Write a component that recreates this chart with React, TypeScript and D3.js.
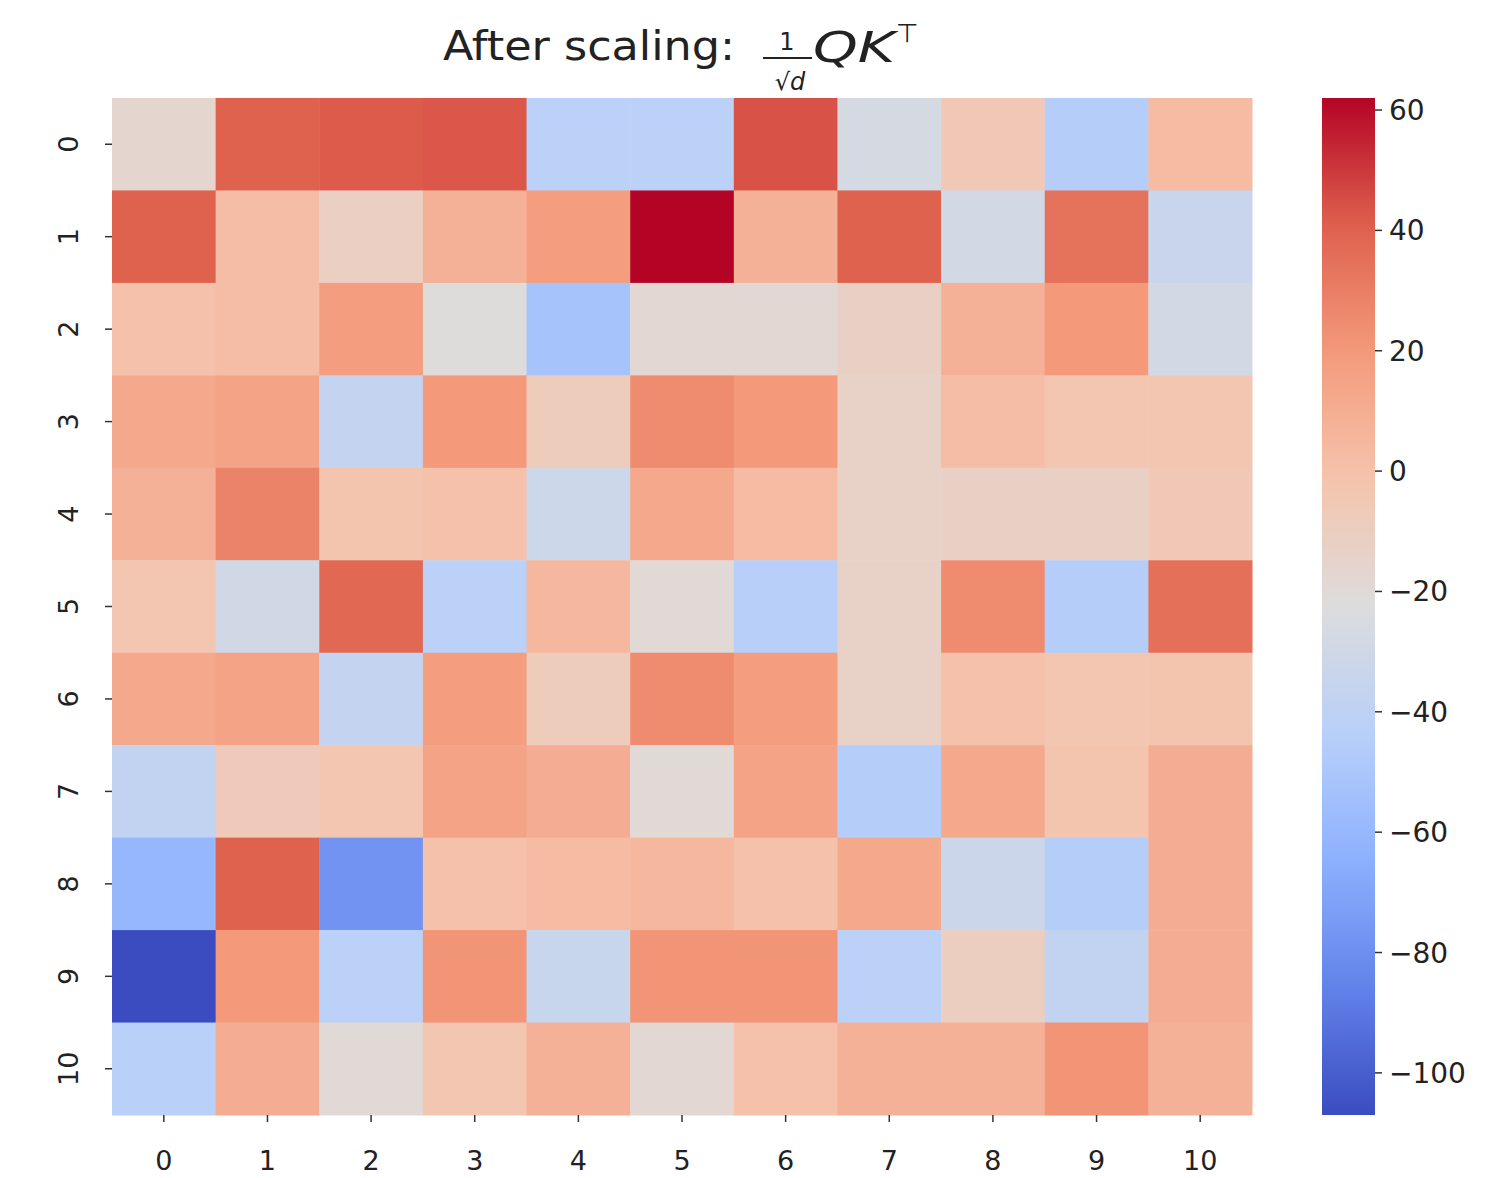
import React from "react";
import * as d3 from "d3";

const rowLabels = ["0", "1", "2", "3", "4", "5", "6", "7", "8", "9", "10"];
const colLabels = ["0", "1", "2", "3", "4", "5", "6", "7", "8", "9", "10"];

const row0 = [-16, 40, 42, 43, -42, -42, 44, -27, -5, -45, 3];
const row1 = [40, 2, -11, 8, 18, 62, 8, 40, -28, 34, -34];
const row2 = [0, 2, 18, -22, -52, -18, -18, -12, 8, 20, -28];
const row3 = [12, 15, -37, 20, -8, 25, 20, -13, 2, -3, -3];
const row4 = [8, 28, -2, 0, -32, 12, 3, -13, -12, -12, -5];
const row5 = [-3, -30, 38, -42, 5, -20, -44, -13, 25, -45, 35];
const row6 = [12, 15, -37, 18, -8, 25, 18, -13, 0, -3, -2];
const row7 = [-38, -7, -3, 15, 10, -20, 15, -45, 12, -2, 10];
const row8 = [-60, 40, -78, 0, 3, 5, 0, 12, -33, -45, 10];
const row9 = [-107, 20, -42, 22, -35, 22, 22, -42, -10, -38, 10];
const row10 = [-43, 10, -20, -3, 8, -18, 0, 8, 8, 22, 8];
const matrix = [row0, row1, row2, row3, row4, row5, row6, row7, row8, row9, row10];

const colorbarTicks = [60, 40, 20, 0, -20, -40, -60, -80, -100];
const vMin = -107;
const vMax = 62;

const coolwarmStops = [
  "#3a4cc0", "#6282ea", "#8db0fe", "#b8d0f9", "#dddcdc",
  "#f5c4ad", "#f49a7b", "#de604d", "#b40426",
];

const W = 1487;
const H = 1178;
const left = 112, right = 1252, top = 98, bottom = 1115;
const cbLeft = 1322, cbRight = 1375;
const FONT = "DejaVu Sans, sans-serif";

export default function App() {
  const x = d3.scaleBand<string>().domain(colLabels).range([left, right]);
  const y = d3.scaleBand<string>().domain(rowLabels).range([top, bottom]);
  const t = d3.scaleLinear().domain([vMin, vMax]).range([0, 1]);
  const stopPos = coolwarmStops.map((_, i) => i / (coolwarmStops.length - 1));
  const cmapT = d3.scaleLinear<string>().domain(stopPos).range(coolwarmStops).interpolate(d3.interpolateRgb);
  const color = (v: number) => cmapT(t(v));
  const cbY = d3.scaleLinear().domain([vMin, vMax]).range([bottom, top]);
  const gradStops = d3.range(0, 1.0001, 0.02);
  const fmt = (v: number) => (v < 0 ? "\u2212" + Math.abs(v) : String(v));

  return (
    <svg width={W} height={H} style={{ position: "absolute", left: 0, top: 0, background: "#fff" }} fontFamily={FONT}>
      <defs>
        <linearGradient id="cbgrad" x1="0" y1="1" x2="0" y2="0">
          {gradStops.map((s) => (
            <stop key={s} offset={s} stopColor={cmapT(s)} />
          ))}
        </linearGradient>
      </defs>
      {/* Title */}
      <g fill="#222">
        <text x={443} y={60} fontSize={40} textLength={292} lengthAdjust="spacingAndGlyphs">After scaling:</text>
        <text x={787} y={50} fontSize={24} textAnchor="middle">1</text>
        <line x1={763} x2={812} y1={58} y2={58} stroke="#222" strokeWidth={2} />
        <text x={790} y={90} fontSize={24} textAnchor="middle">
          <tspan>√</tspan>
          <tspan fontStyle="italic">d</tspan>
        </text>
        <text x={813} y={62} fontSize={42} fontStyle="italic" textLength={82} lengthAdjust="spacingAndGlyphs">QK</text>
        <text x={896} y={42} fontSize={26}>⊤</text>
      </g>
      {/* Cells */}
      {matrix.map((row, i) =>
        row.map((v, j) => (
          <rect
            key={`${i}-${j}`}
            x={x(colLabels[j])}
            y={y(rowLabels[i])}
            width={x.bandwidth() + 0.5}
            height={y.bandwidth() + 0.5}
            fill={color(v)}
          />
        ))
      )}
      {/* X axis */}
      {colLabels.map((c) => {
        const cx = (x(c) as number) + x.bandwidth() / 2;
        return (
          <g key={"x" + c}>
            <line x1={cx} x2={cx} y1={bottom} y2={bottom + 7} stroke="#333" strokeWidth={1.5} />
            <text x={cx} y={1170} fontSize={27} textAnchor="middle" fill="#222">{c}</text>
          </g>
        );
      })}
      {/* Y axis */}
      {rowLabels.map((r) => {
        const cy = (y(r) as number) + y.bandwidth() / 2;
        return (
          <g key={"y" + r}>
            <line x1={left - 7} x2={left} y1={cy} y2={cy} stroke="#333" strokeWidth={1.5} />
            <text transform={`translate(78,${cy}) rotate(-90)`} fontSize={27} textAnchor="middle" fill="#222">{r}</text>
          </g>
        );
      })}
      {/* Colorbar */}
      <rect x={cbLeft} y={top} width={cbRight - cbLeft} height={bottom - top} fill="url(#cbgrad)" />
      {colorbarTicks.map((v) => (
        <g key={"cb" + v}>
          <line x1={cbRight} x2={cbRight + 7} y1={cbY(v)} y2={cbY(v)} stroke="#333" strokeWidth={1.5} />
          <text x={cbRight + 14} y={cbY(v) + 10} fontSize={28} fill="#222">{fmt(v)}</text>
        </g>
      ))}
    </svg>
  );
}
